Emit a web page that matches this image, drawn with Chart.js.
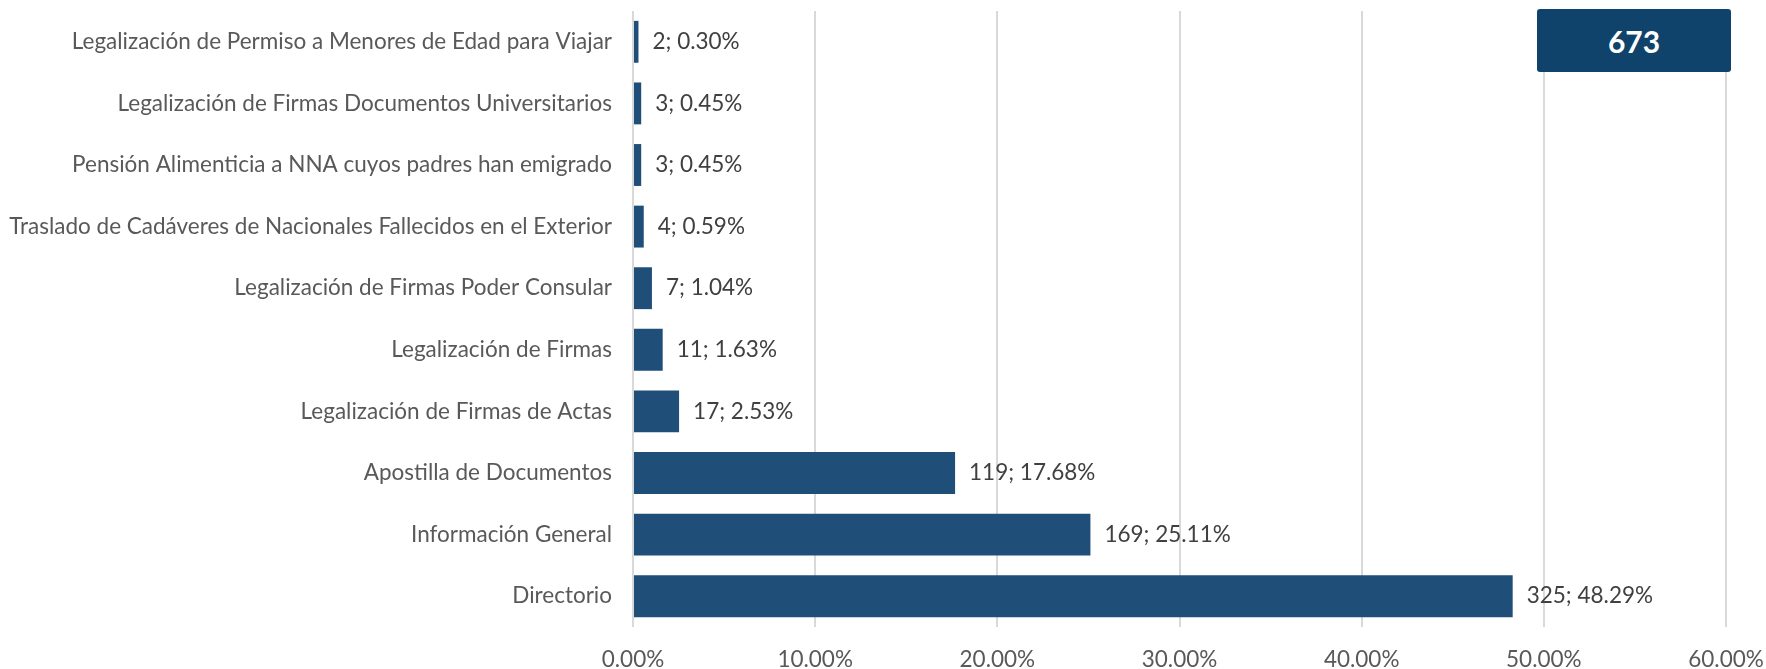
<!DOCTYPE html>
<html lang="es">
<head>
  <meta charset="UTF-8">
  <title>Trámites</title>
  <script src="https://cdn.jsdelivr.net/npm/chart.js"></script>
  <style>
    body { margin: 0; background: #fff; }
    .wrap { position: relative; width: 1766px; height: 669px; }
    .total {
      position: absolute; left: 1537px; top: 9px; width: 194px; height: 63px;
      background: #10436b; color: #fff; border-radius: 3px;
      font: bold 30px Lato, sans-serif;
      display: flex; align-items: center; justify-content: center;
    }
  </style>
</head>
<body>
  <div class="wrap">
    <canvas id="chart"></canvas>
    <div class="total" id="total"></div>
  </div>

  <script>
    const categories = [
      'Legalización de Permiso a Menores de Edad para Viajar',
      'Legalización de Firmas Documentos Universitarios',
      'Pensión Alimenticia a NNA cuyos padres han emigrado',
      'Traslado de Cadáveres de Nacionales Fallecidos en el Exterior',
      'Legalización de Firmas Poder Consular',
      'Legalización de Firmas',
      'Legalización de Firmas de Actas',
      'Apostilla de Documentos',
      'Información General',
      'Directorio'
    ];
    const counts = [2, 3, 3, 4, 7, 11, 17, 119, 169, 325];
    const percents = [0.30, 0.45, 0.45, 0.59, 1.04, 1.63, 2.53, 17.68, 25.11, 48.29];
    const total = 673;

    document.getElementById('total').textContent = total;

    const textColor = '#595959';
    const font = { family: 'Lato', size: 22.5 };

    // "n; p%" label to the right of each bar
    const barLabels = {
      id: 'barLabels',
      afterDatasetsDraw(chart) {
        const c = chart.ctx;
        const meta = chart.getDatasetMeta(0);
        c.save();
        c.font = '22.5px Lato';
        c.fillStyle = '#404040';
        c.textAlign = 'left';
        c.textBaseline = 'middle';
        meta.data.forEach((bar, i) => {
          c.fillText(counts[i] + '; ' + percents[i].toFixed(2) + '%', bar.x + 14, bar.y);
        });
        c.restore();
      }
    };

    new Chart(document.getElementById('chart'), {
      type: 'bar',
      data: {
        labels: categories,
        datasets: [{
          data: percents,
          backgroundColor: '#1f4e79',
          categoryPercentage: 1,
          barPercentage: 0.68
        }]
      },
      options: {
        indexAxis: 'y',
        responsive: true,
        maintainAspectRatio: false,
        animation: false,
        layout: { padding: { top: 11, right: 40, left: 0, bottom: 0 } },
        plugins: { legend: { display: false }, tooltip: { enabled: false } },
        scales: {
          x: {
            min: 0, max: 60,
            ticks: { stepSize: 10, color: textColor, font, padding: 19,
                     callback: v => v.toFixed(2) + '%' },
            grid: { color: '#d9d9d9', lineWidth: 2, drawTicks: false },
            border: { display: false },
            afterFit: s => { s.height = 42; s.paddingLeft = 0; s.paddingRight = 0; }
          },
          y: {
            ticks: { color: textColor, font, padding: 21 },
            grid: { display: false, drawTicks: false },
            border: { display: false },
            afterFit: s => { s.width = 633; s.paddingTop = 0; s.paddingBottom = 0; }
          }
        }
      },
      plugins: [barLabels]
    });
  </script>
</body>
</html>
